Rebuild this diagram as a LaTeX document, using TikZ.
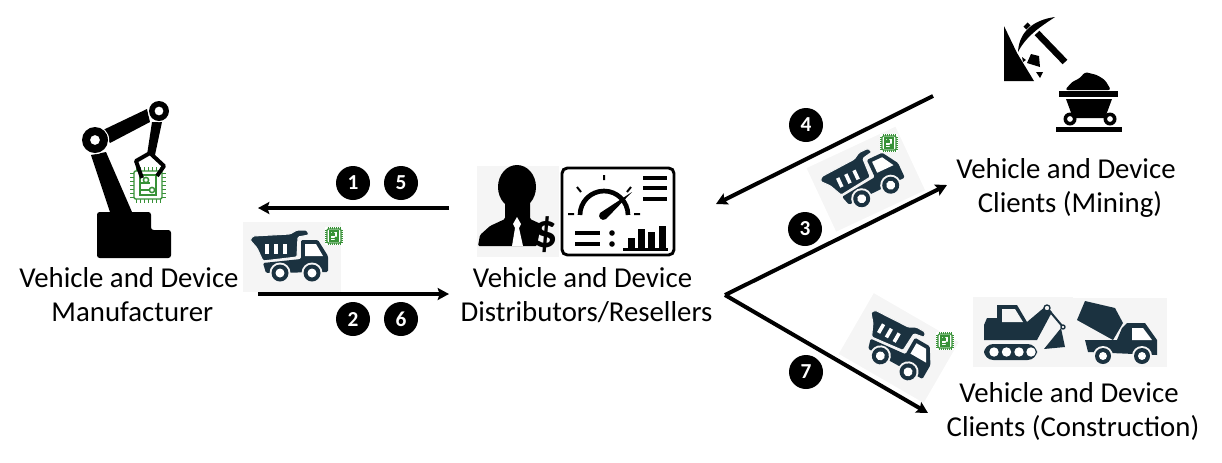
\documentclass[tikz,border=0pt]{standalone}
\usepackage{fontspec}
\setmainfont{Carlito}
\usetikzlibrary{arrows.meta, positioning}
\definecolor{trucktone}{RGB}{27, 50, 64}
\definecolor{panelgray}{RGB}{245, 245, 245}
\definecolor{chipgreen}{RGB}{55, 145, 55}

\tikzset{
  chip/.pic={
    \fill[white] (-9,-9) rectangle (9,9);
    \foreach \p in {-6,-4,-2,0,2,4,6} {
      \draw[chipgreen, line width=0.5pt] (\p,-9) -- (\p,9) (-9,\p) -- (9,\p);
    }
    \draw[chipgreen, fill=white, rounded corners=1pt] (-7,-7) rectangle (7,7);
    \draw[chipgreen] (-4,-5) rectangle (4,5) (-4,-1) -- (1,-1) (-4,2.5) -- (1,2.5);
    \draw[chipgreen, fill=white] (-1,-2.5) circle[radius=1.3] (2,2.5) circle[radius=1.3];
  },
  dumptruck/.pic={
    \fill[panelgray] (-47,-35) rectangle (51,35);
    \fill[trucktone, rounded corners=1pt] (-27,6) -- (11,2) -- (11,-17) -- (28,-17) -- (38,-1) -- (38,15) -- (-24,16) -- cycle;
    \fill[white] (15,-13) -- (26,-13) -- (33,-1) -- (15,-1) -- cycle;
    \fill[trucktone, draw=panelgray, line width=0.8pt, rounded corners=1pt] (-40,-17) -- (-37,-21) -- (0,-23) -- (7,-27) -- (17,-27) -- (19,-22) -- (8,-20) -- (7,0) -- (-27,4) -- (-33,-9) -- cycle;
    \foreach \p in {-23,-14,-5} {
      \fill[white] (\p-1.8,-13) rectangle (\p+1.8,-3);
    }
    \foreach \p in {-10,22} {
      \fill[panelgray] (\p,16) circle[radius=10.5];
      \fill[trucktone] (\p,16) circle[radius=8.5];
      \fill[white] (\p,16) circle[radius=4.5];
    }
  }
}

\begin{document}
\begin{tikzpicture}[
    x=0.75pt, y=-0.75pt,
    label/.style={align=center, font=\fontsize{21.6}{25.5}\selectfont},
    badge/.style={circle, fill=black, text=white, inner sep=0pt, minimum size=25.5pt, font=\fontsize{16}{16}\selectfont\bfseries},
    arrow/.style={-{Stealth[length=8.5pt, width=9pt, inset=1.5pt]}, line width=3pt},
    ink/.style={fill=black},
    mach/.style={fill=trucktone}
]
\useasboundingbox (0,0) rectangle (1222,462);

% Manufacturer robot
\fill[ink, rounded corners=2pt] (97,258) -- (97,212) -- (151,212) -- (151,230) -- (171,230) -- (171,258) -- cycle;
\fill[ink] (91,155) -- (106,152) -- (132,212) -- (110,212) -- cycle;
\fill[ink] (103,130) -- (147,109) -- (150,122) -- (110,143) -- cycle;
\fill[ink] (152,122) -- (162,122) -- (155,155) -- (147,155) -- cycle;
\draw[white, line width=1pt] (95,140) circle[radius=13.5] (159,111) circle[radius=10.5];
\fill[ink, even odd rule] (95,140) circle[radius=13] circle[radius=5] (159,111) circle[radius=10] circle[radius=4.5];
\pic[scale=2, line width=1.1pt] at (148,185) {chip};
\draw[line width=3pt, line join=round] (142,178) -- (136,161) -- (150,153) -- (164,166) -- (157,176);

% Distributor with dollar sign
\fill[panelgray] (477,166) rectangle (559,257);
\fill[ink] (517,187) ellipse[x radius=19, y radius=22];
\fill[ink, rounded corners=1pt] (478,246) -- (480,235) -- (490,226) -- (505,219) -- (505,200) -- (530,200) -- (530,219) -- (541,224) -- (537,246) -- cycle;
\fill[white] (517,217) -- (521,224) -- (519,228) -- (523,246) -- (512,246) -- (515,228) -- (513,224) -- cycle;
\node[inner sep=0pt, font=\fontsize{36}{36}\selectfont\bfseries] (dollar) at (546,235) {\$};

% Dashboard
\draw[line width=2.2pt, rounded corners=4pt] (562,168) rectangle (674,255);
\draw[line width=3.5pt] (580,215) arc[start angle=180, end angle=360, radius=24];
\draw[line width=1.5pt] (604,175) -- (604,180) (577,187) -- (581,192) (631,187) -- (627,192) (568,214) -- (574,214) (634,214) -- (640,214);
\fill[ink] (600,213) -- (632,192) -- (606,219) .. controls (602,222) and (597,217) .. (600,213) -- cycle;
\draw[line width=2.6pt] (643,178) -- (667,178) (643,188) -- (667,188) (643,199) -- (667,199) (575,233) -- (600,233) (575,244) -- (600,244) (623,249.5) -- (668,249.5);
\fill[ink] (612,233) circle[radius=2.8] (612,244) circle[radius=2.8];
\foreach \p/\t in {628/238, 638/229, 648/232, 659/226} {
  \fill[ink] (\p,\t) rectangle (\p+7,249);
}

% Mining pick and rock
\fill[ink] (1004,26) -- (1017,53) -- (1034,81) -- (1004,81) -- cycle;
\fill[ink] (1031,54) -- (1039,56) -- (1040,67) -- (1027,63) -- cycle;
\fill[ink] (1022,57) -- (1026,60) -- (1023,62) -- cycle (1036,72) -- (1043,72) -- (1040,78) -- cycle;
\fill[ink] (1018,52) .. controls (1019,32) and (1033,20) .. (1055,17) .. controls (1045,24) and (1027,34) .. (1018,52) -- cycle;
\fill[ink, rotate around={45:(1027,26)}] (1024,24) rectangle (1030,28);
\draw[line width=4.9pt] (1037,33) -- (1065,62);

% Mine cart
\fill[ink, rounded corners=2pt] (1065,90) -- (1072,82) -- (1080,78) -- (1085,72) -- (1097,75) -- (1105,80) -- (1111,90) -- cycle;
\fill[ink] (1059,91) rectangle (1118,97);
\fill[ink] (1066,99) -- (1112,99) -- (1105,118) -- (1073,118) -- cycle;
\fill[ink, even odd rule] (1070,119) circle[radius=6.5] circle[radius=3] (1110,119) circle[radius=6.5] circle[radius=3];
\fill[ink] (1056,127) rectangle (1122,132);

% Excavator
\fill[panelgray] (973,297) rectangle (1073,367);
\fill[mach] (984,325) -- (987,318) -- (997,318) -- (997,305) -- (1017,305) -- (1027,322) -- (1046,306) -- (1052,312) -- (1037,340) -- (984,340) -- cycle;
\fill[panelgray] (1002,309) -- (1015,309) -- (1023,322) -- (1002,322) -- cycle;
\draw[trucktone, line width=1.5pt] (1047,308) -- (1063,327);
\fill[mach] (1061,328) -- (1065,347) -- (1044,349) -- cycle;
\fill[panelgray, draw=trucktone, line width=1pt] (1047,308) circle[radius=3] (1063,327) circle[radius=2];
\fill[mach, rounded corners=7pt] (984,344) rectangle (1037,360);
\foreach \p in {994,1006.5,1019,1031} {
  \fill[white] (\p,352) circle[radius=4.7];
}

% Mixer truck
\fill[panelgray] (1067,298) rectangle (1167,367);
\fill[mach] (1085,301) -- (1115,308) -- (1123,323) -- (1113,340) -- (1077,320) -- cycle;
\fill[mach] (1088,352) -- (1085,340) -- (1117,340) -- (1122,328) -- (1127,323) -- (1145,323) -- (1157,340) -- (1157,355) -- cycle;
\fill[white] (1132,328) -- (1143,328) -- (1152,340) -- (1132,340) -- cycle;
\foreach \p in {1103,1142} {
  \fill[panelgray] (\p,356) circle[radius=10];
  \fill[mach] (\p,356) circle[radius=8];
  \fill[white] (\p,356) circle[radius=4];
}

% Trucks with chips
\pic at (290,257) {dumptruck};
\pic[line width=0.9pt] at (334,236) {chip};
\pic[rotate=25] at (864,180) {dumptruck};
\pic[line width=0.9pt] at (889,143) {chip};
\pic[rotate=-30] at (897,347) {dumptruck};
\pic[line width=0.9pt] at (945,341) {chip};

% Labels
\node[label] (maker) at (129,295) {Vehicle and Device\\\hspace*{5pt}Manufacturer};
\node[label] (dealer) at (582.5,295) {Vehicle and Device\\\hspace*{6pt}Distributors/Resellers};
\node[label] (mining) at (1066,188) {Vehicle and Device\\\hspace*{6pt}Clients (Mining)};
\node[label] (building) at (1069,411) {Vehicle and Device\\\hspace*{6pt}Clients (Construction)};

% Step numbers
\node[badge] (s1) at (353,183) {1};
\node[badge] (s5) at (401,183) {5};
\node[badge] (s2) at (353,319) {2};
\node[badge] (s6) at (401,319) {6};
\node[badge] (s4) at (806,125) {4};
\node[badge] (s3) at (805,229) {3};
\node[badge] (s7) at (806,372) {7};

% Arrow ends
\coordinate (backstart) at (449,208);
\coordinate (backend) at (258,208);
\coordinate (forestart) at (258,294);
\coordinate (foreend) at (449,294);
\coordinate (minestart) at (933,96);
\coordinate (mineend) at (716,204);
\coordinate (fork) at (725,295);
\coordinate (forkup) at (947,185);
\coordinate (forkdown) at (928,413);

% Arrows
\draw[arrow] (backstart) -- (backend);
\draw[arrow] (forestart) -- (foreend);
\draw[arrow] (minestart) -- (mineend);
\draw[arrow] (fork) -- (forkup);
\draw[arrow] (fork) -- (forkdown);

\end{tikzpicture}
\end{document}
